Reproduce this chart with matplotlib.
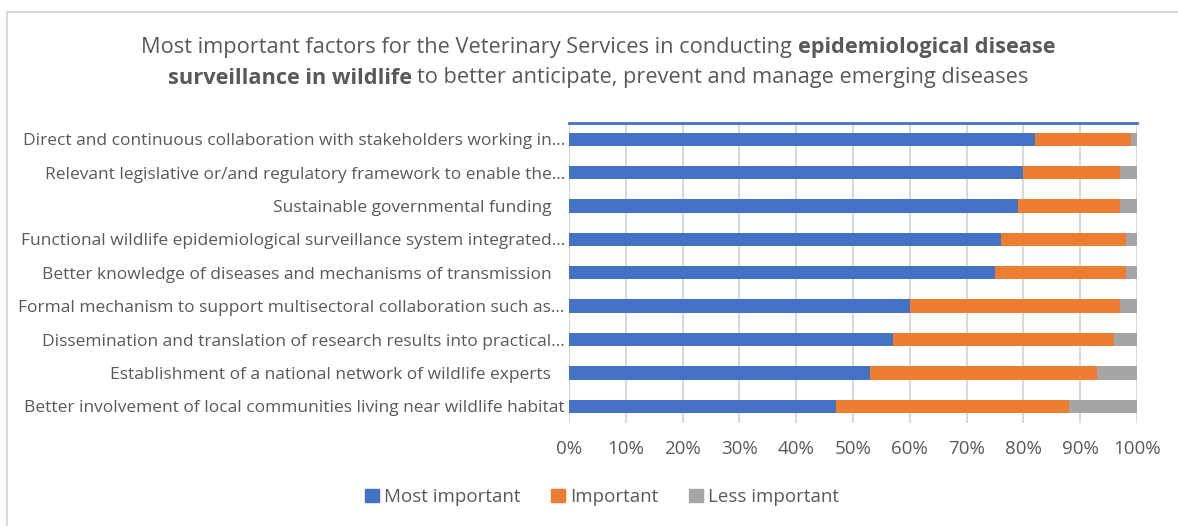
import numpy as np
import matplotlib.pyplot as plt
from matplotlib.patches import Patch

# Survey answers (% of respondents), listed top to bottom
factors = [
    "Direct and continuous collaboration with stakeholders working in\u2026",
    "Relevant legislative or/and regulatory framework to enable the\u2026",
    "Sustainable governmental funding   ",
    "Functional wildlife epidemiological surveillance system integrated\u2026",
    "Better knowledge of diseases and mechanisms of transmission   ",
    "Formal mechanism to support multisectoral collaboration such as\u2026",
    "Dissemination and translation of research results into practical\u2026",
    "Establishment of a national network of wildlife experts   ",
    "Better involvement of local communities living near wildlife habitat",
]
most_important = [82, 80, 79, 76, 75, 60, 57, 53, 47]
important = [17, 17, 18, 22, 23, 37, 39, 40, 41]
less_important = [1, 3, 3, 2, 2, 3, 4, 7, 12]
series_names = ["Most important", "Important", "Less important"]
colors = ["#4472C4", "#ED7D31", "#A5A5A5"]
ticks = np.arange(0, 101, 10)

FONT = "Open Sans"
TXT = "#595959"

fig = plt.figure(figsize=(11.78, 5.26), dpi=100)
W, H = 1178, 526
ax = fig.add_axes([569 / W, 1 - 423 / H, (1137 - 569) / W, (423 - 122.5) / H])

y = np.arange(len(factors))
left = np.zeros(len(factors))
for vals, name, c in zip([most_important, important, less_important], series_names, colors):
    ax.barh(y, vals, left=left, height=0.4, color=c, label=name, zorder=3)
    left += np.array(vals)

ax.set_ylim(len(factors) - 0.5, -0.5)
ax.set_xlim(0, 100)
ax.set_xticks(ticks)
ax.set_xticklabels([f"{t}%" for t in ticks], fontsize=13.5, color=TXT, family=FONT)
ax.set_yticks(y)
ax.set_yticklabels(factors, fontsize=12.5, color=TXT, family=FONT)
ax.tick_params(length=0, axis="x", pad=12)
ax.tick_params(length=0, axis="y", pad=3)
ax.grid(axis="x", color="#D9D9D9", linewidth=1.5, zorder=0)
for s in ["left", "right", "bottom"]:
    ax.spines[s].set_visible(False)
ax.spines["top"].set_color("#4472C4")
ax.spines["top"].set_linewidth(2)

# outer chart frame (only its top and left edges fall inside the image)
fig.patches.append(plt.Rectangle((7 / W, -0.5), 2, 1.5 - 12 / H, transform=fig.transFigure,
                                 fill=False, edgecolor="#D9D9D9", linewidth=1.5))


def mixed_line(ycen, parts, size):
    # lay out normal/bold runs one after the other, centred as a whole
    renderer = fig.canvas.get_renderer()
    items = []
    for s, w in parts:
        t = fig.text(0, ycen, s, fontsize=size, weight=w, color=TXT, family=FONT,
                     va="center", ha="left")
        items.append(t)
    space = fig.text(0, 0, "a a", fontsize=size, family=FONT)
    aa = fig.text(0, 0, "aa", fontsize=size, family=FONT)
    sp_w = space.get_window_extent(renderer).width - aa.get_window_extent(renderer).width
    space.remove()
    aa.remove()
    widths = [t.get_window_extent(renderer).width for t in items]
    total = sum(widths) + sp_w * (len(items) - 1)
    x = 598 - total / 2
    for t, w in zip(items, widths):
        t.set_x(x / W)
        x += w + sp_w


mixed_line(1 - 47 / H, [("Most important factors for the Veterinary Services in conducting", "normal"),
                        ("epidemiological disease", "bold")], 15.7)
mixed_line(1 - 78 / H, [("surveillance in wildlife", "bold"),
                        ("to better anticipate, prevent and manage emerging diseases", "normal")], 15.7)

handles = [Patch(color=c, label=n) for c, n in zip(colors, series_names)]
leg = fig.legend(handles=handles, loc="center", bbox_to_anchor=(602 / W, 1 - 497 / H), ncol=3,
                 frameon=False, handlelength=0.75, handleheight=0.75, handletextpad=0.3,
                 columnspacing=1.6, prop={"family": FONT, "size": 13.5})
for t in leg.get_texts():
    t.set_color(TXT)

fig.savefig("out.png", dpi=100)
